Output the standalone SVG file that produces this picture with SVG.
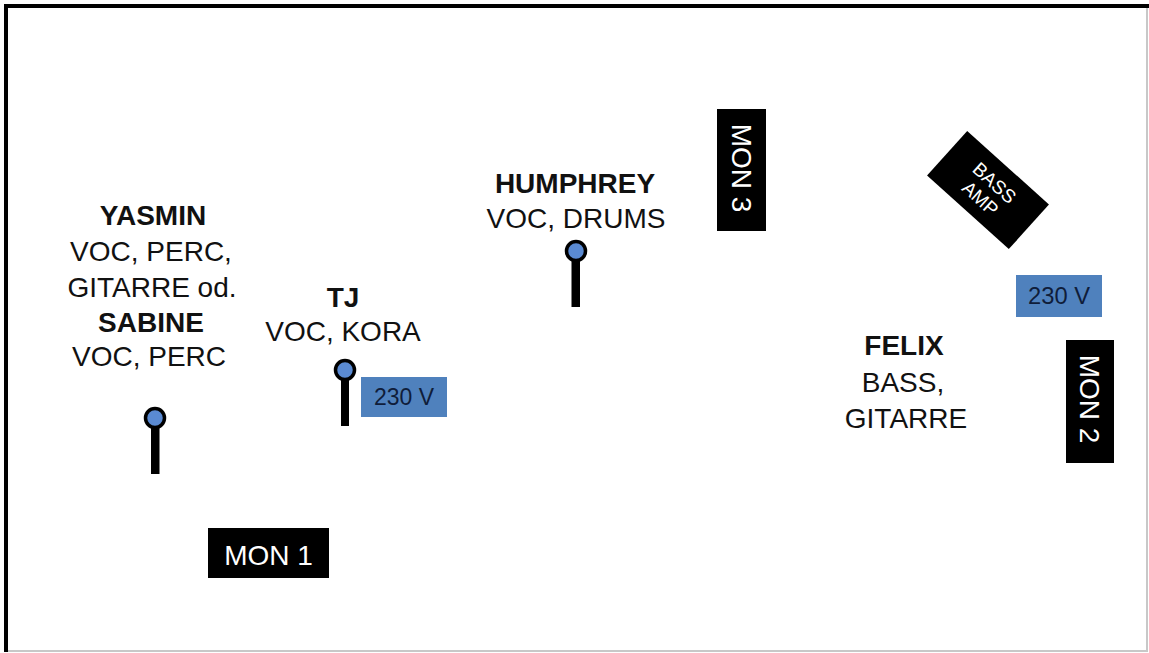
<svg xmlns="http://www.w3.org/2000/svg" width="1149" height="653" viewBox="0 0 1149 653">
<style>
  text { font-family: "Liberation Sans", Arial, sans-serif; }
  .name { font-size: 28px; font-weight: bold; fill: #111; text-anchor: middle; }
  .role { font-size: 28px; fill: #111; text-anchor: middle; }
  .mon { fill: #000; }
  .montxt { font-size: 28px; fill: #fff; text-anchor: middle; }
  .pwr { fill: #4f81bd; }
  .pwrtxt { font-size: 23px; fill: #0f1d3a; text-anchor: middle; }
  .stem { fill: #000; }
  .head { fill: #5a8ad2; stroke: #000; stroke-width: 3.5; }
  .amptxt { font-size: 19px; fill: #fff; text-anchor: middle; }
</style>
<rect x="0" y="0" width="1149" height="653" fill="#fff"/>
<g id="border">
  <path d="M1147,6 V651 H6" fill="none" stroke="#c8c8c8" stroke-width="2"/>
  <path d="M6,652 V6 H1149" fill="none" stroke="#000" stroke-width="4"/>
</g>
<g id="yasmin-sabine">
  <text class="name" x="153" y="225">YASMIN</text>
  <text class="role" x="151" y="261">VOC, PERC,</text>
  <text class="role" x="152" y="297">GITARRE od.</text>
  <text class="name" x="151" y="332">SABINE</text>
  <text class="role" x="149" y="366">VOC, PERC</text>
</g>
<g id="tj">
  <text class="name" x="343" y="307">TJ</text>
  <text class="role" x="343" y="341">VOC, KORA</text>
</g>
<g id="humphrey">
  <text class="name" x="575" y="193">HUMPHREY</text>
  <text class="role" x="576" y="228">VOC, DRUMS</text>
</g>
<g id="felix">
  <text class="name" x="904" y="355">FELIX</text>
  <text class="role" x="903" y="392">BASS,</text>
  <text class="role" x="906" y="428">GITARRE</text>
</g>
<g id="mic-yasmin">
  <rect class="stem" x="151" y="424" width="8.5" height="50"/>
  <circle class="head" cx="155" cy="418" r="9.5"/>
</g>
<g id="mic-tj">
  <rect class="stem" x="341" y="376" width="8" height="50"/>
  <circle class="head" cx="345" cy="370" r="9.5"/>
</g>
<g id="mic-humphrey">
  <rect class="stem" x="571.5" y="257" width="8.5" height="50"/>
  <circle class="head" cx="576" cy="251" r="9.5"/>
</g>
<g id="power-tj">
  <rect class="pwr" x="361" y="377" width="86" height="40"/>
  <text class="pwrtxt" x="404" y="405" textLength="60" lengthAdjust="spacingAndGlyphs">230 V</text>
</g>
<g id="power-felix">
  <rect class="pwr" x="1016" y="275" width="86" height="42"/>
  <text class="pwrtxt" x="1059" y="304" textLength="62" lengthAdjust="spacingAndGlyphs">230 V</text>
</g>
<g id="mon1">
  <rect class="mon" x="208" y="528" width="121" height="50"/>
  <text class="montxt" x="268.5" y="565">MON 1</text>
</g>
<g id="mon2">
  <rect class="mon" x="1066" y="340" width="48" height="123"/>
  <text class="montxt" transform="translate(1080,399) rotate(90)">MON 2</text>
</g>
<g id="mon3">
  <rect class="mon" x="717" y="109" width="49" height="122"/>
  <text class="montxt" transform="translate(732,168) rotate(90)">MON 3</text>
</g>
<g id="bass-amp">
  <g transform="translate(988,190) rotate(42)">
    <rect class="mon" x="-55" y="-30" width="110" height="60"/>
    <text class="amptxt" x="0" y="-3">BASS</text>
    <text class="amptxt" x="0" y="18">AMP</text>
  </g>
</g>
<g id="connectors"></g>
</svg>
